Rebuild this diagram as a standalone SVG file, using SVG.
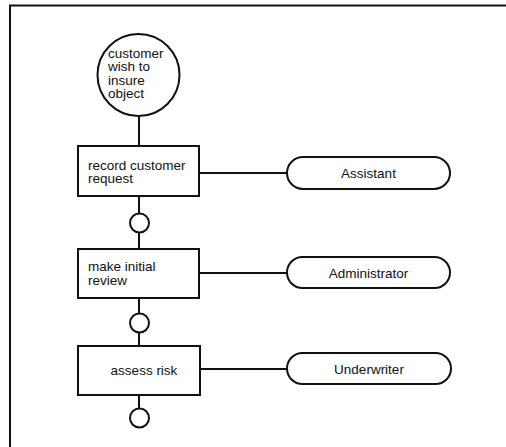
<svg xmlns="http://www.w3.org/2000/svg" width="506" height="447" viewBox="0 0 506 447">
<style>
.s{fill:#fff;stroke:#111;stroke-width:2}
.c{fill:none;stroke:#111;stroke-width:2}
text{font-family:"Liberation Sans",Arial,sans-serif;font-size:13.5px;fill:#111}
.m{text-anchor:middle}
</style>
<rect width="506" height="447" fill="#fff"/>
<path class="c" d="M10,447 V5.5 H506"/>
<g id="connectors">
<line class="c" x1="139" y1="116" x2="139" y2="146"/>
<line class="c" x1="139" y1="196" x2="139" y2="213"/>
<line class="c" x1="139" y1="233" x2="139" y2="249"/>
<line class="c" x1="139" y1="298" x2="139" y2="313"/>
<line class="c" x1="139" y1="333" x2="139" y2="346"/>
<line class="c" x1="139" y1="395" x2="139" y2="408"/>
<line class="c" x1="199" y1="173" x2="287" y2="173"/>
<line class="c" x1="199" y1="273" x2="287" y2="273"/>
<line class="c" x1="200" y1="369" x2="287" y2="369"/>
</g>
<g id="start">
<circle class="s" cx="138.5" cy="75" r="41"/>
<text x="108" y="57.5">customer</text>
<text x="108" y="71">wish to</text>
<text x="108" y="84.5">insure</text>
<text x="108" y="98">object</text>
</g>
<g id="record">
<rect class="s" x="78" y="146" width="121" height="50"/>
<text x="88" y="169.5">record customer</text>
<text x="88" y="183">request</text>
</g>
<g id="e1"><circle class="s" cx="139.5" cy="223" r="9.5"/></g>
<g id="review">
<rect class="s" x="78" y="249" width="121" height="49"/>
<text x="88" y="271">make initial</text>
<text x="88" y="284.5">review</text>
</g>
<g id="e2"><circle class="s" cx="139.5" cy="323" r="9.5"/></g>
<g id="assess">
<rect class="s" x="78" y="346" width="122" height="49"/>
<text class="m" x="144" y="375">assess risk</text>
</g>
<g id="e3"><circle class="s" cx="139.5" cy="418" r="9.5"/></g>
<g id="assistant">
<rect class="s" x="287" y="157" width="163" height="32" rx="16"/>
<text class="m" x="368.5" y="178">Assistant</text>
</g>
<g id="administrator">
<rect class="s" x="287" y="257" width="163" height="31" rx="15.5"/>
<text class="m" x="368.5" y="277.5">Administrator</text>
</g>
<g id="underwriter">
<rect class="s" x="287" y="353" width="164" height="31" rx="15.5"/>
<text class="m" x="369" y="373.5">Underwriter</text>
</g>
</svg>
